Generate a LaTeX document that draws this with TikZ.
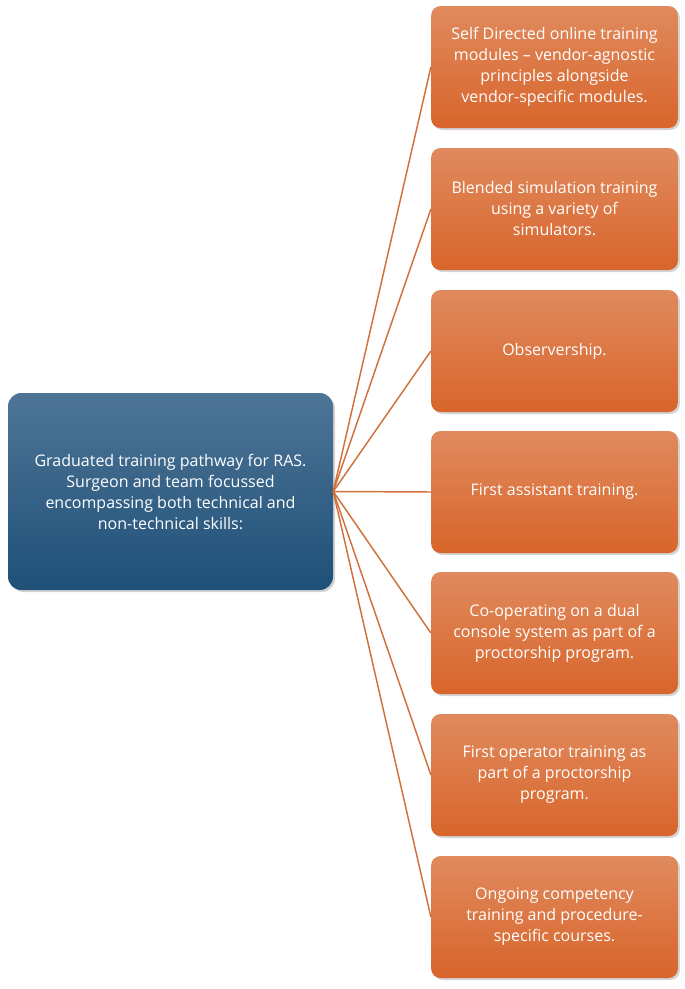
\documentclass[tikz,border=0pt]{standalone}
\usepackage{fontspec}
\setmainfont{Open Sans}
\usetikzlibrary{positioning,shadows}
\definecolor{blueTop}{HTML}{4E7596}
\definecolor{blueBot}{HTML}{1F5078}
\definecolor{orTop}{HTML}{E08A5E}
\definecolor{orBot}{HTML}{D8652B}
\definecolor{link}{HTML}{D2703C}
\begin{document}
\begin{tikzpicture}[x=0.75pt,y=-0.75pt]
\tikzstyle{root}=[rounded corners=10pt,top color=blueTop,bottom color=blueBot,draw=none,
  minimum width=243.75pt,minimum height=147.75pt,align=center,
  text=white,font=\fontsize{12}{15.75}\selectfont,drop shadow={opacity=0.35,shadow xshift=1.5pt,shadow yshift=-1.5pt}]
\tikzstyle{leaf}=[rounded corners=7pt,top color=orTop,bottom color=orBot,draw=none,
  minimum width=185pt,minimum height=91.5pt,align=center,
  text=white,font=\fontsize{12}{15.75}\selectfont,drop shadow={opacity=0.35,shadow xshift=1.5pt,shadow yshift=-1.5pt}]
\useasboundingbox (0,0) rectangle (685,989);
\node [root] (path) at (170.5,491.5) {Graduated training pathway for RAS.\\ Surgeon and team focussed\\ encompassing both technical and\\ non-technical skills:};
\node [leaf] (s1) at (554.5,67) {Self Directed online training\\ modules -- vendor-agnostic\\ principles alongside\\ vendor-specific modules.};
\node [leaf] (s2) at (554.5,209) {Blended simulation training\\ using a variety of\\ simulators.};
\node [leaf] (s3) at (554.5,351) {Observership.};
\node [leaf] (s4) at (554.5,492) {First assistant training.};
\node [leaf] (s5) at (554.5,633) {Co-operating on a dual\\ console system as part of a\\ proctorship program.};
\node [leaf] (s6) at (554.5,775) {First operator training as\\ part of a proctorship\\ program.};
\node [leaf] (s7) at (554.5,917) {Ongoing competency\\ training and procedure-\\ specific courses.};
\foreach \s in {s1,s2,s3,s4,s5,s6,s7}
  \draw [link,line width=1.1pt] (path.east) -- (\s.west);
\end{tikzpicture}
\end{document}
